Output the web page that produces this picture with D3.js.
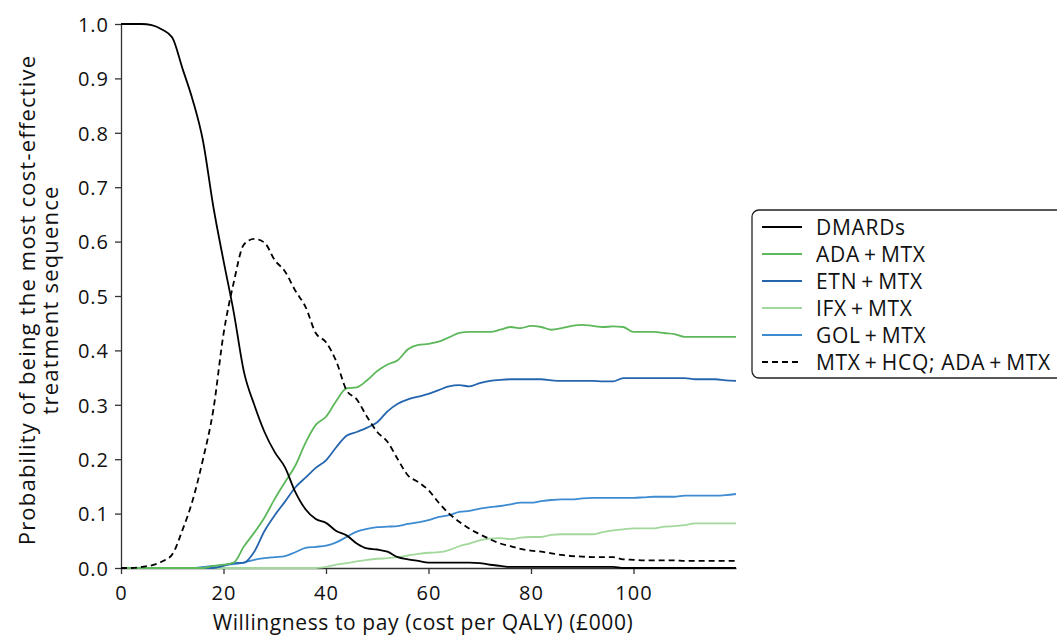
<!DOCTYPE html>
<html><head><meta charset="utf-8">
<script src="https://cdn.jsdelivr.net/npm/d3@7"></script>
<style>
html,body{margin:0;padding:0;background:#fff;}
text{font-family:"Open Sans","Noto Sans",sans-serif;fill:#111;}
</style></head>
<body>
<svg id="chart" width="1057" height="637"></svg>
<script>
// Willingness to pay (£000)
const wtp = [0,2,4,6,8,10,12,14,16,18,20,22,24,26,28,30,32,34,36,38,40,42,44,46,48,50,52,54,56,58,60,62,64,66,68,70,72,74,76,78,80,82,84,86,88,90,92,94,96,98,100,102,104,106,108,110,112,114,116,118,120];

const dmards = [1.0,1.0,1.0,0.998,0.99,0.975,0.918,0.86,0.785,0.665,0.565,0.47,0.36,0.3,0.25,0.213,0.185,0.14,0.108,0.09,0.083,0.068,0.06,0.045,0.036,0.034,0.03,0.02,0.016,0.013,0.01,0.01,0.01,0.01,0.01,0.009,0.006,0.004,0.002,0.002,0.002,0.002,0.002,0.002,0.002,0.002,0.002,0.002,0.002,0,0,0,0,0,0,0,0,0,0,0,0];
const adaMtx = [0,0,0,0,0,0,0,0,0,0.004,0.006,0.01,0.04,0.065,0.093,0.127,0.158,0.188,0.23,0.263,0.278,0.307,0.33,0.332,0.345,0.362,0.374,0.382,0.402,0.41,0.412,0.416,0.424,0.432,0.434,0.434,0.434,0.438,0.443,0.441,0.445,0.443,0.438,0.441,0.445,0.447,0.445,0.443,0.444,0.443,0.434,0.434,0.434,0.432,0.43,0.425,0.425,0.425,0.425,0.425,0.425];
const etnMtx = [0,0,0,0,0,0,0,0,0,0,0.004,0.009,0.01,0.03,0.068,0.097,0.122,0.148,0.166,0.184,0.198,0.222,0.243,0.25,0.258,0.268,0.288,0.302,0.31,0.315,0.32,0.327,0.334,0.336,0.334,0.34,0.344,0.346,0.347,0.347,0.347,0.347,0.345,0.344,0.344,0.344,0.344,0.343,0.343,0.349,0.349,0.349,0.349,0.349,0.349,0.349,0.347,0.347,0.347,0.345,0.344];
const ifxMtx = [0,0,0,0,0,0,0,0,0,0,0,0,0,0,0,0,0,0,0,0,0.002,0.006,0.009,0.012,0.015,0.017,0.018,0.02,0.023,0.026,0.028,0.029,0.033,0.04,0.045,0.051,0.054,0.055,0.053,0.056,0.057,0.057,0.061,0.062,0.062,0.062,0.062,0.066,0.069,0.071,0.073,0.073,0.073,0.076,0.077,0.079,0.082,0.082,0.082,0.082,0.082];
const golMtx = [0,0,0,0,0,0,0,0,0.002,0.004,0.005,0.007,0.01,0.015,0.018,0.02,0.022,0.029,0.037,0.039,0.041,0.047,0.057,0.067,0.072,0.075,0.076,0.077,0.081,0.084,0.088,0.094,0.097,0.103,0.105,0.109,0.112,0.114,0.117,0.12,0.12,0.123,0.125,0.126,0.126,0.128,0.129,0.129,0.129,0.129,0.129,0.13,0.131,0.131,0.131,0.133,0.133,0.133,0.133,0.134,0.136];
const mtxHcq = [0,0,0.002,0.005,0.012,0.025,0.07,0.125,0.2,0.29,0.43,0.525,0.595,0.605,0.598,0.566,0.545,0.51,0.48,0.432,0.415,0.38,0.327,0.31,0.278,0.25,0.232,0.2,0.17,0.158,0.143,0.12,0.1,0.085,0.072,0.062,0.053,0.045,0.04,0.035,0.032,0.03,0.027,0.024,0.022,0.021,0.02,0.02,0.02,0.016,0.015,0.014,0.014,0.014,0.014,0.013,0.013,0.013,0.013,0.013,0.013];

const seriesNames = ["DMARDs","ADA+MTX","ETN+MTX","IFX+MTX","GOL+MTX","MTX+HCQ; ADA+MTX"];
const seriesValues = [dmards, adaMtx, etnMtx, ifxMtx, golMtx, mtxHcq];
const seriesColors = ["#000000","#5cb85a","#2565ae","#a3d89c","#3d8bd1","#000000"];
const seriesDash = [null,null,null,null,null,"6,4"];

const xTicks = [0,20,40,60,80,100];
const yTicks = [0,0.1,0.2,0.3,0.4,0.5,0.6,0.7,0.8,0.9,1.0];

const svg = d3.select("#chart");
const x = d3.scaleLinear().domain([0,120]).range([121,736]);
const y = d3.scaleLinear().domain([0,1]).range([568,24]);

const axisColor = "#333";
const FONT = '"Open Sans","Noto Sans",sans-serif';

// axes
const gx = svg.append("g").attr("transform","translate(0,568)")
  .call(d3.axisBottom(x).tickValues(xTicks).tickFormat(d3.format("d")).tickSize(6).tickSizeOuter(0));
const gy = svg.append("g").attr("transform","translate(121,0)")
  .call(d3.axisLeft(y).tickValues(yTicks).tickFormat(d3.format(".1f")).tickSize(6).tickSizeOuter(0));
[gx,gy].forEach(g=>{
  g.select(".domain").attr("stroke",axisColor).attr("stroke-width",1.3);
  g.selectAll(".tick line").attr("stroke",axisColor).attr("stroke-width",1.3);
  g.selectAll(".tick text").attr("font-size",20).attr("fill","#111")
    .attr("letter-spacing","1px").attr("font-family",FONT);
});
gx.selectAll(".tick text").attr("y",32).attr("dy",null);
gy.selectAll(".tick text").attr("x",-12).attr("dy","0.36em");

// lines
const line = d3.line().x((d,i)=>x(wtp[i])).y(d=>y(d)).curve(d3.curveMonotoneX);
const order = [3,4,2,1,5,0];
order.forEach(k=>{
  svg.append("path").datum(seriesValues[k])
    .attr("d",line).attr("fill","none")
    .attr("stroke",seriesColors[k]).attr("stroke-width",1.8)
    .attr("stroke-dasharray",seriesDash[k]);
});

// axis titles
svg.append("text").attr("x",423).attr("y",630).attr("text-anchor","middle")
  .attr("font-size",21).attr("letter-spacing","0.6px").text("Willingness to pay (cost per QALY) (£000)");
const yt = svg.append("text").attr("transform","translate(0,300) rotate(-90)")
  .attr("text-anchor","middle").attr("font-size",22).attr("letter-spacing","1.2px");
yt.append("tspan").attr("x",0).attr("y",35).text("Probability of being the most cost-effective");
yt.append("tspan").attr("x",0).attr("y",58).text("treatment sequence");

// legend
const lg = svg.append("g");
lg.append("rect").attr("x",752).attr("y",210).attr("width",330).attr("height",168)
  .attr("rx",7).attr("fill","#fff").attr("stroke","#222").attr("stroke-width",1.3);
seriesNames.forEach((n,i)=>{
  const cy = 227 + i*27;
  lg.append("line").attr("x1",762).attr("x2",802).attr("y1",cy).attr("y2",cy)
    .attr("stroke",seriesColors[i]).attr("stroke-width",1.8).attr("stroke-dasharray",seriesDash[i]);
  lg.append("text").attr("x",816).attr("y",cy).attr("dy","0.36em").attr("font-size",21)
    .attr("letter-spacing","0.7px").text(n.replace(/\+/g,"\u2009+\u2009"));
});
</script>
</body></html>
